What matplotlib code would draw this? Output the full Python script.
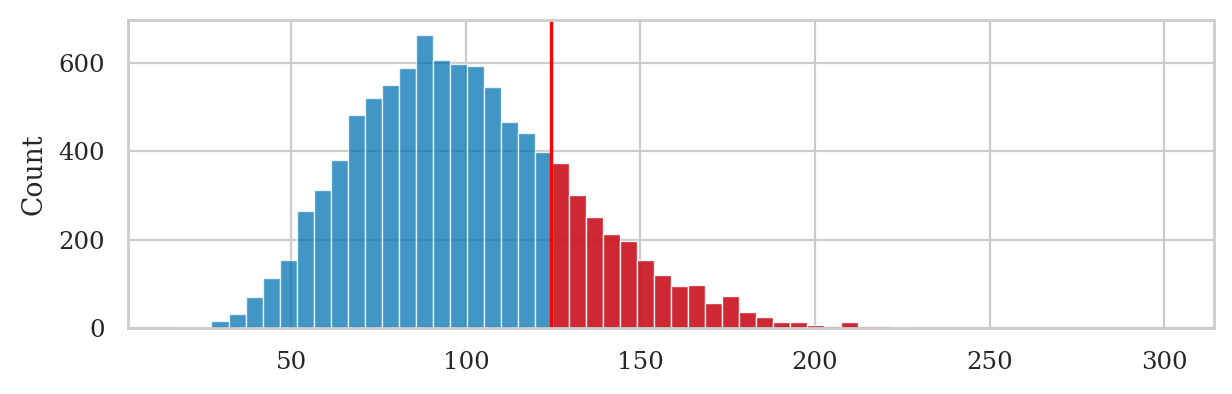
import numpy as np
import matplotlib
matplotlib.use("Agg")
import matplotlib.pyplot as plt
import seaborn as sns

# histogram: 58 equal bins between min and max
DATA_MIN = 17.4
DATA_MAX = 300.0
COUNTS = [
    2, 2, 17, 31, 70, 113, 155, 265, 313, 379,
    481, 520, 549, 588, 663, 606, 598, 593, 545, 465,
    440, 397, 374, 300, 251, 213, 197, 155, 120, 95,
    97, 58, 72, 36, 26, 13, 13, 8, 6, 13,
    6, 4, 2, 1, 1, 0, 1, 0, 1, 0,
    0, 0, 0, 0, 0, 0, 0, 1,
]
THRESHOLD = 124.5

sns.set_theme(style="whitegrid", context="paper")
plt.rcParams["font.family"] = "DejaVu Serif"

edges = np.linspace(DATA_MIN, DATA_MAX, len(COUNTS) + 1)
left = edges[:-1]
widths = np.diff(edges)
below = left < THRESHOLD - 1e-6

fig, ax = plt.subplots(figsize=(6.16, 1.97), dpi=200)
ax.bar(left[below], np.array(COUNTS)[below], width=widths[below], align="edge",
       color="#0173b2", alpha=0.75, edgecolor="white", linewidth=0.5)
ax.bar(left[~below], np.array(COUNTS)[~below], width=widths[~below], align="edge",
       color="#c8101e", alpha=0.9, edgecolor="white", linewidth=0.5)
ax.axvline(THRESHOLD, color="red")

ax.set_ylabel("Count")
ax.set_xticks([50, 100, 150, 200, 250, 300])
ax.set_yticks([0, 200, 400, 600])

fig.subplots_adjust(left=0.104, right=0.985, top=0.949, bottom=0.167)
fig.savefig("out.png")
